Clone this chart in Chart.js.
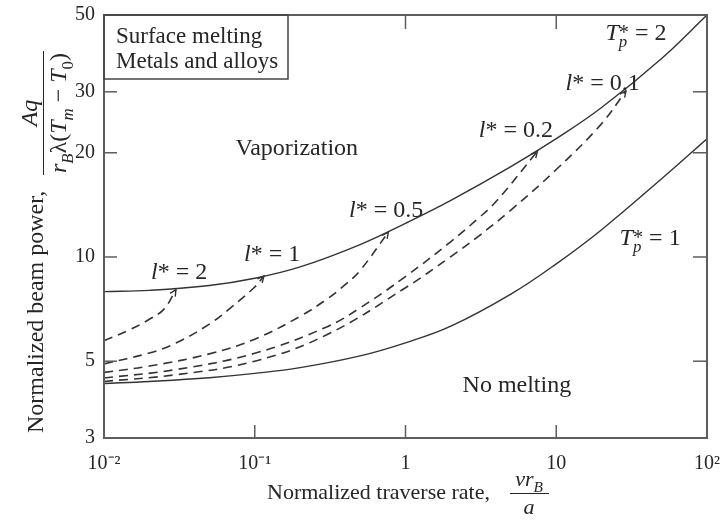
<!DOCTYPE html>
<html><head><meta charset="utf-8">
<script src="https://cdn.jsdelivr.net/npm/chart.js@4"></script>
<style>html,body{margin:0;padding:0;background:#fff}</style>
</head><body>
<canvas id="c" width="723" height="522"></canvas>
<script>
// ---- data ----
const xTicks = [0.01, 0.1, 1, 10, 100];
const xTickLabels = ['10\u207B\u00B2', '10\u207B\u00B9', '1', '10', '10\u00B2'];
const yTicks = [3, 5, 10, 20, 30, 50];

const boundX = [0.01, 0.02, 0.05, 0.1, 0.2, 0.5, 1, 2, 5, 10, 20, 50, 100];
const tp2Y   = [7.94, 8.01, 8.27, 8.68, 9.36, 10.86, 12.51, 14.57, 18.23, 21.96, 27.02, 37.45, 50];
const tp1Y   = [4.31, 4.37, 4.48, 4.61, 4.79, 5.18, 5.65, 6.31, 7.81, 9.55, 11.99, 16.83, 21.96];

const l2X  = [0.01, 0.015, 0.02, 0.025, 0.03];
const l2Y  = [5.73, 6.18, 6.61, 7.07, 8.05];
const l1X  = [0.01, 0.02, 0.03, 0.05, 0.07, 0.1, 0.115];
const l1Y  = [4.91, 5.28, 5.64, 6.40, 7.16, 8.19, 8.81];
const l05X = [0.01, 0.02, 0.05, 0.1, 0.2, 0.3, 0.4, 0.5, 0.77];
const l05Y = [4.64, 4.84, 5.25, 5.79, 6.74, 7.55, 8.33, 9.14, 11.8];
const l02X = [0.01, 0.03, 0.1, 0.3, 0.5, 1, 2, 3, 4, 7.5];
const l02Y = [4.47, 4.73, 5.27, 6.28, 7.13, 8.78, 11.08, 12.87, 14.48, 20.2];
const l01X = [0.01, 0.03, 0.1, 0.3, 1, 2, 3, 5, 10, 20, 29];
const l01Y = [4.37, 4.57, 5.0, 5.96, 8.15, 10.03, 11.42, 13.66, 17.89, 24.28, 30.2];

// ---- helpers ----
const SERIF = '"Liberation Serif", "Times New Roman", serif';
const INK = '#262626';
function fnt(size, italic) { return (italic ? 'italic ' : '') + size + 'px ' + SERIF; }
function pts(xs, ys) { return xs.map((x, i) => ({x: x, y: ys[i]})); }

function rich(ctx, parts, x, y, size, draw) {
  let cx = x;
  for (const p of parts) {
    if (p.gap !== undefined) { cx += p.gap; continue; }
    if (p.stack) {
      ctx.font = fnt(size * 0.85, false);
      const w1 = ctx.measureText(p.sup).width;
      if (draw) ctx.fillText(p.sup, cx, y - size * 0.05);
      ctx.font = fnt(size * 0.7, true);
      const w2 = ctx.measureText(p.sub).width;
      if (draw) ctx.fillText(p.sub, cx, y + size * 0.3);
      cx += Math.max(w1, w2);
      continue;
    }
    const s = (p.sub || p.sup) ? size * 0.7 : size;
    ctx.font = fnt(s, p.i);
    const dy = p.sub ? size * 0.28 : (p.sup ? -size * 0.38 : 0);
    if (draw) ctx.fillText(p.t, cx, y + dy);
    cx += ctx.measureText(p.t).width;
  }
  return cx - x;
}

function lstar(val) { return [{t: 'l', i: true}, {t: '*'}, {gap: 6}, {t: '='}, {gap: 6}, {t: val}]; }
function tstar(val) { return [{t: 'T', i: true}, {stack: true, sup: '*', sub: 'p'}, {gap: 6}, {t: '='}, {gap: 6}, {t: val}]; }

// region / curve labels, anchored in data space (left edge, baseline)
const LABELS = [
  {parts: lstar('2'),   x: 0.0205, y: 8.66},
  {parts: lstar('1'),   x: 0.0849, y: 9.76},
  {parts: lstar('0.5'), x: 0.4217, y: 13.08},
  {parts: lstar('0.2'), x: 3.06,   y: 22.2},
  {parts: lstar('0.1'), x: 11.53,  y: 30.4},
  {parts: tstar('2'),   x: 21.2,   y: 42.4},
  {parts: tstar('1'),   x: 26.3,   y: 10.85},
  {parts: [{t: 'Vaporization'}], x: 0.0745, y: 19.7},
  {parts: [{t: 'No melting'}],   x: 2.39,   y: 4.08}
];

const decor = {
  id: 'decor',
  afterDatasetsDraw(chart) {
    const {ctx, chartArea: a, scales: {x, y}} = chart;
    ctx.save();
    const line = (x1, y1, x2, y2) => { ctx.beginPath(); ctx.moveTo(x1, y1); ctx.lineTo(x2, y2); ctx.stroke(); };

    // small arrow tips at the ends of the dashed curves
    ctx.strokeStyle = '#333';
    ctx.lineWidth = 1.4;
    chart.data.datasets.forEach((ds, i) => {
      if (!ds.borderDash) return;
      const pm = chart.getDatasetMeta(i).data;
      const p1 = pm[pm.length - 1], p0 = pm[pm.length - 2];
      const ang = Math.atan2(p1.y - p0.y, p1.x - p0.x);
      const L = 7;
      ctx.beginPath();
      ctx.moveTo(p1.x - L * Math.cos(ang - 0.45), p1.y - L * Math.sin(ang - 0.45));
      ctx.lineTo(p1.x, p1.y);
      ctx.lineTo(p1.x - L * Math.cos(ang + 0.45), p1.y - L * Math.sin(ang + 0.45));
      ctx.stroke();
    });

    ctx.strokeStyle = '#5e5e5e';
    ctx.lineWidth = 1.5;
    for (const v of xTicks.slice(1, -1)) {
      const px = x.getPixelForValue(v);
      line(px, a.bottom, px, a.bottom - 13);
      line(px, a.top, px, a.top + 14);
    }
    for (const v of yTicks.slice(1, -1)) {
      const py = y.getPixelForValue(v);
      line(a.left, py, a.left + 13, py);
      line(a.right, py, a.right - 14, py);
    }
    ctx.lineWidth = 2;
    ctx.strokeRect(a.left, a.top, a.width, a.height);

    // legend box
    ctx.fillStyle = '#fff';
    ctx.fillRect(a.left + 1, a.top + 1, 183, 63);
    ctx.strokeStyle = '#444';
    ctx.lineWidth = 1.5;
    ctx.strokeRect(a.left, a.top, 184, 64);

    ctx.fillStyle = INK;
    ctx.textBaseline = 'alphabetic';
    ctx.textAlign = 'left';
    ctx.font = fnt(23, false);
    ctx.fillText('Surface melting', 116, 43);
    ctx.fillText('Metals and alloys', 116, 68);

    for (const lb of LABELS) {
      rich(ctx, lb.parts, x.getPixelForValue(lb.x), y.getPixelForValue(lb.y), 24, true);
    }

    // x-axis title
    ctx.font = fnt(22, false);
    ctx.fillText('Normalized traverse rate,', 267, 499);
    const numX = [{t: 'vr', i: true}, {t: 'B', i: true, sub: true}];
    const wn = rich(ctx, numX, 0, 0, 22, false);
    rich(ctx, numX, 529 - wn / 2, 486, 22, true);
    ctx.font = fnt(22, true);
    const wa = ctx.measureText('a').width;
    ctx.fillText('a', 529 - wa / 2, 514);
    ctx.strokeStyle = INK; ctx.lineWidth = 1;
    line(510, 493.5, 549, 493.5);

    // y-axis title (rotated)
    ctx.translate(43, 433);
    ctx.rotate(-Math.PI / 2);
    ctx.font = fnt(24, false);
    ctx.fillText('Normalized beam power,', 0, 0);
    const num = [{t: 'Aq', i: true}];
    const den = [{t: 'r', i: true}, {t: 'B', i: true, sub: true}, {t: '\u03BB('}, {t: 'T', i: true}, {t: 'm', i: true, sub: true},
                 {t: ' \u2212 '}, {t: 'T', i: true}, {t: '0', sub: true}, {t: ')'}];
    const uc = 320;
    const wN = rich(ctx, num, 0, 0, 24, false);
    const wD = rich(ctx, den, 0, 0, 24, false);
    rich(ctx, num, uc - wN / 2, -6, 24, true);
    rich(ctx, den, uc - wD / 2, 23, 24, true);
    const half = Math.max(wN, wD) / 2 + 2;
    line(uc - half, 0.5, uc + half, 0.5);
    ctx.restore();
  }
};

const solid = {borderColor: '#333', borderWidth: 1.4, pointRadius: 0, fill: false, tension: 0.4};
const dashed = Object.assign({}, solid, {borderDash: [9, 6], borderWidth: 1.6});

new Chart(document.getElementById('c'), {
  type: 'line',
  data: {
    datasets: [
      Object.assign({label: 'T*p = 2', data: pts(boundX, tp2Y)}, solid),
      Object.assign({label: 'T*p = 1', data: pts(boundX, tp1Y)}, solid),
      Object.assign({label: 'l* = 2', data: pts(l2X, l2Y)}, dashed),
      Object.assign({label: 'l* = 1', data: pts(l1X, l1Y)}, dashed),
      Object.assign({label: 'l* = 0.5', data: pts(l05X, l05Y)}, dashed),
      Object.assign({label: 'l* = 0.2', data: pts(l02X, l02Y)}, dashed),
      Object.assign({label: 'l* = 0.1', data: pts(l01X, l01Y)}, dashed)
    ]
  },
  options: {
    responsive: false,
    animation: false,
    events: [],
    layout: {padding: {top: 15, right: 16, bottom: 0, left: 0}},
    plugins: {legend: {display: false}, tooltip: {enabled: false}, title: {display: false}},
    scales: {
      x: {
        type: 'logarithmic', min: 0.01, max: 100,
        afterBuildTicks: s => { s.ticks = xTicks.map(v => ({value: v})); },
        afterFit: s => { s.height = 84; s.paddingLeft = 0; s.paddingRight = 0; },
        ticks: {
          autoSkip: false, maxRotation: 0, padding: 14, color: INK,
          font: {family: SERIF, size: 20},
          callback: (v) => { const i = xTicks.indexOf(v); return i >= 0 ? xTickLabels[i] : ''; }
        },
        grid: {display: false, drawTicks: false},
        border: {display: false}
      },
      y: {
        type: 'logarithmic', min: 3, max: 50,
        afterBuildTicks: s => { s.ticks = yTicks.map(v => ({value: v})); },
        afterFit: s => { s.width = 104; s.paddingTop = 0; s.paddingBottom = 0; },
        ticks: {
          autoSkip: false, padding: 9, color: INK,
          font: {family: SERIF, size: 20},
          callback: (v) => String(v)
        },
        grid: {display: false, drawTicks: false},
        border: {display: false}
      }
    }
  },
  plugins: [decor]
});
</script>
</body></html>
